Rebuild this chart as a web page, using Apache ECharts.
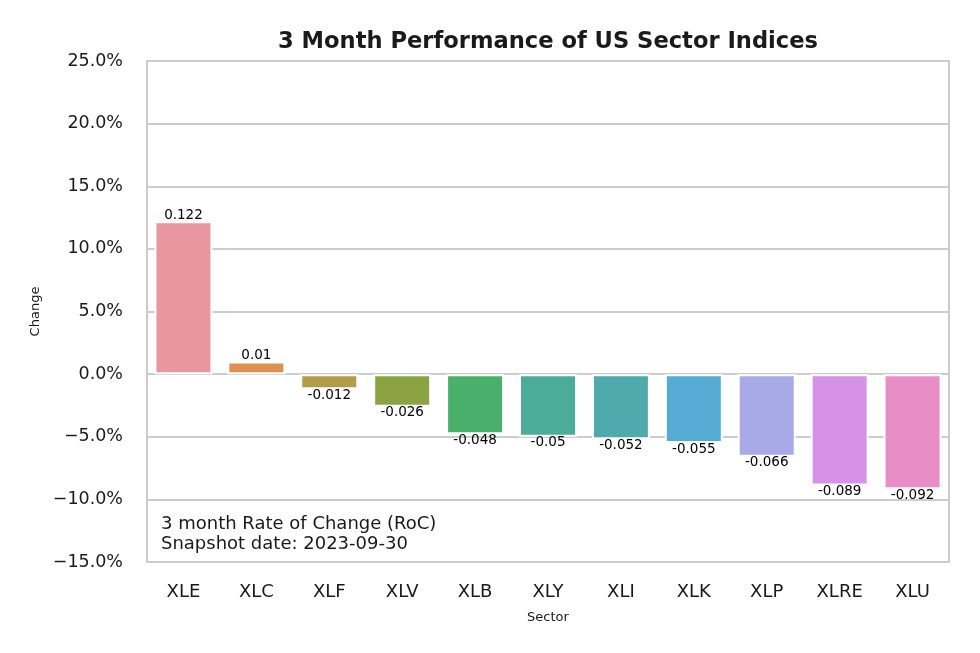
<!DOCTYPE html>
<html>
<head>
<meta charset="utf-8">
<script src="https://cdn.jsdelivr.net/npm/echarts@6/dist/echarts.min.js"></script>
<style>
  html, body { margin: 0; padding: 0; background: #fff; }
  #chart { width: 980px; height: 653px; }
</style>
</head>
<body>
<div id="chart"></div>
<script>
// sectors and their 3 month rate of change
const sectors = ["XLE", "XLC", "XLF", "XLV", "XLB", "XLY", "XLI", "XLK", "XLP", "XLRE", "XLU"];
const changes = [0.122, 0.01, -0.012, -0.026, -0.048, -0.05, -0.052, -0.055, -0.066, -0.089, -0.092];
const yTicks = { min: -0.15, max: 0.25, step: 0.05 };
const notes = ["3 month Rate of Change (RoC)", "Snapshot date: 2023-09-30"];

// husl-like palette, one per bar
const palette = ["#e8969f", "#dd904f", "#b39c48", "#8ca343", "#48b06a", "#4bac98",
                 "#4eaaac", "#55abd3", "#a8aae8", "#d592e6", "#e88dc6"];

const font = "DejaVu Sans";

const fmtPct = v => {
  if (Math.abs(v) < 1e-9) v = 0;
  return (v * 100).toFixed(1).replace("-", "\u2212") + "%";
};

const chart = echarts.init(document.getElementById("chart"), null, { renderer: "canvas" });

chart.setOption({
  animation: false,
  backgroundColor: "#ffffff",
  textStyle: { fontFamily: font },
  title: {
    text: "3 Month Performance of US Sector Indices",
    left: 543, top: 26, textAlign: "center",
    textStyle: { fontFamily: font, fontSize: 22.6, fontWeight: "bold", color: "#1a1a1a" }
  },
  grid: {
    left: 147, right: 31, top: 61, bottom: 91,
    show: true, borderColor: "#cccccc", borderWidth: 2, backgroundColor: "transparent"
  },
  xAxis: {
    type: "category",
    data: sectors,
    name: "Sector", nameLocation: "middle", nameGap: 49,
    nameTextStyle: { fontFamily: font, fontSize: 13, color: "#1a1a1a" },
    axisLine: { show: false },
    axisTick: { show: false },
    axisLabel: { fontFamily: font, fontSize: 18, color: "#1a1a1a", margin: 21 }
  },
  yAxis: {
    type: "value",
    min: yTicks.min, max: yTicks.max, interval: yTicks.step,
    name: "Change", nameLocation: "middle", nameGap: 104,
    nameTextStyle: { fontFamily: font, fontSize: 13, color: "#1a1a1a" },
    axisLine: { show: false },
    axisTick: { show: false },
    axisLabel: { fontFamily: font, fontSize: 17.5, color: "#1a1a1a", margin: 24, formatter: fmtPct },
    splitLine: { lineStyle: { color: "#cccccc", width: 2 } }
  },
  series: [{
    type: "bar",
    barWidth: 58,
    data: changes.map((v, i) => ({
      value: v,
      itemStyle: { color: palette[i] },
      label: { position: v >= 0 ? "top" : "bottom" }
    })),
    itemStyle: { borderColor: "#ffffff", borderWidth: 2 },
    label: {
      show: true, distance: -1,
      fontFamily: font, fontSize: 13.5, color: "#000000",
      formatter: p => String(p.value)
    }
  }],
  graphic: [{
    type: "text",
    left: 161, top: 514,
    style: {
      text: notes.join("\n"),
      font: "18px 'DejaVu Sans'",
      lineHeight: 20,
      fill: "#1a1a1a"
    }
  }]
});
</script>
</body>
</html>
